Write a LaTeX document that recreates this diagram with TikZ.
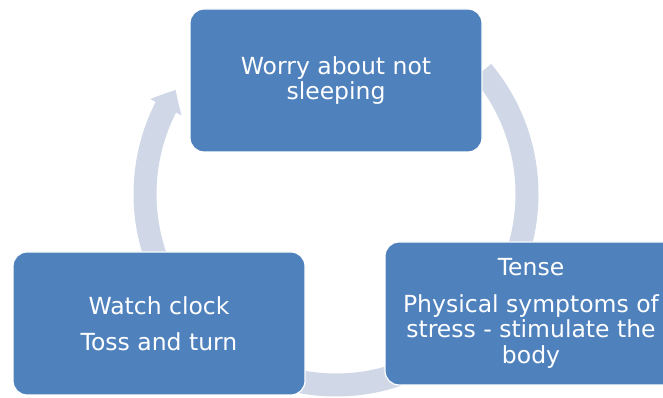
\documentclass[tikz,border=0pt]{standalone}
\usepackage{fontspec}
\setmainfont{DejaVu Sans}
\usetikzlibrary{arrows.meta,bending}
\definecolor{boxblue}{HTML}{4F81BD}
\definecolor{arcgray}{HTML}{D0D8E8}

\begin{document}
\begin{tikzpicture}[x=1pt,y=1pt,
		stepbox/.style={draw=white,line width=1.2pt,fill=boxblue,rounded corners=14pt,
			minimum width=292pt,minimum height=143pt,text=white,align=center,
			font=\fontsize{23.5}{25.5}\selectfont},
		cyclearrow/.style={arcgray,line width=23pt,-{Triangle[width=34pt,length=20pt,bend]}}]
		\useasboundingbox (0,0) rectangle (663,398);
		\clip (0,0) rectangle (663,398);
		\coordinate (c) at (336,204);% centre of the cycle
		\coordinate (r1) at ([shift={(40:191)}]c);% tail of right arc
		\coordinate (r2) at ([shift={(-60:191)}]c);% tail of bottom arc
		\coordinate (r3) at ([shift={(202:191)}]c);% tail of left arc
		\draw [cyclearrow] (r1) arc[start angle=40,end angle=-27,radius=191];
		\draw [cyclearrow] (r2) arc[start angle=-60,end angle=-118,radius=191];
		\draw [cyclearrow] (r3) arc[start angle=202,end angle=147,radius=191];
		
		\node[stepbox] (worry) at (336,317.5) {Worry about not\\sleeping};
		\node[stepbox] (tense) at (531,84.5) {Tense\\[11pt]Physical symptoms of\\stress - stimulate the\\body};
		\node[stepbox] (watch) at (159,74.5) {Watch clock\\[11pt]Toss and turn};
		\end{tikzpicture}
\end{document}
